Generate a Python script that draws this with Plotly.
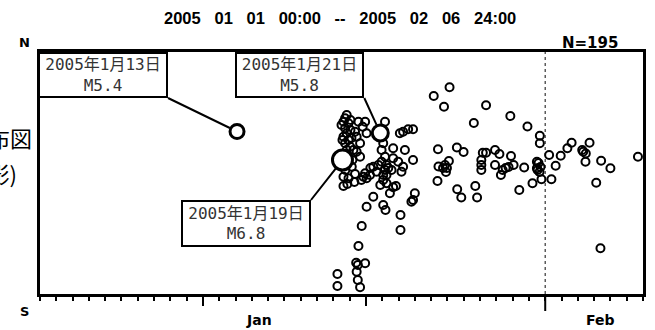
import plotly.graph_objects as go
import pandas as pd

# ---------------- data ----------------
period_start = "2005-01-01 00:00"
period_end = "2005-02-07 00:00"          # = 2005 02 06 24:00
event_count = 195

# elapsed days since period start, and N-S position (km north of southern edge)
elapsed_days = [
    25.13, 24.16, 24.79, 27.37, 26.62, 28.86, 29.91, 24.42, 25.58, 25.99,
    24.45, 24.85, 24.97, 24.91, 25.09, 24.73, 24.39, 25.60, 25.85, 26.71,
    26.82, 27.17, 27.08, 27.08, 27.08, 27.37, 27.92, 28.19, 27.92, 28.90,
    29.06, 28.39, 28.57, 28.75, 28.28, 29.71, 29.41, 30.22, 30.49, 30.49,
    30.67, 30.67, 31.24, 31.95, 32.36, 32.62, 31.64, 30.59, 30.71, 30.53,
    30.65, 30.77, 31.38, 33.33, 33.49, 33.27, 33.72, 33.47, 34.43, 35.00,
    34.13, 36.69, 34.39,
    18.82, 18.72, 18.62, 18.93, 18.72, 18.82, 18.62, 18.93, 18.72, 19.03,
    18.82, 18.62, 18.93, 18.62, 19.33, 19.13, 19.54, 19.95, 19.80, 19.33,
    20.04, 19.43, 19.64, 19.43, 19.64, 21.17, 21.06, 20.96, 21.17, 20.96,
    21.26, 21.17, 21.26, 21.06, 21.26, 20.76, 20.45, 19.95, 19.84, 20.04,
    20.25, 20.65, 21.67, 22.39, 22.08, 22.28, 22.59, 22.89, 21.67, 21.98,
    22.28, 22.18, 22.89, 21.57, 21.67, 21.84, 21.47, 23.00, 22.89, 20.45,
    20.04, 21.06, 21.20, 22.12, 22.79, 22.12, 19.74, 19.54, 19.40, 19.50,
    19.95, 18.25, 18.25, 19.43, 19.50, 19.64, 18.50, 19.05, 18.56, 19.11,
    18.86, 19.17, 18.74, 19.23, 19.05, 21.06, 21.37, 20.88, 20.27, 19.72,
    19.29, 18.86,
]
ns_km = [
    206.7, 198.0, 187.3, 188.7, 171.0, 178.0, 167.5, 144.7, 146.5, 142.0,
    127.5, 129.0, 126.0, 122.0, 133.0, 126.0, 113.0, 104.7, 96.5, 108.0,
    96.5, 141.3, 134.0, 129.0, 124.0, 141.3, 144.0, 140.0, 129.0, 138.0,
    129.0, 124.0, 126.0, 127.0, 119.0, 126.5, 104.0, 110.7, 132.3, 125.7,
    158.3, 150.7, 139.0, 138.3, 145.7, 151.3, 128.3, 131.0, 127.0, 124.0,
    122.0, 114.7, 114.7, 142.3, 140.5, 144.0, 151.3, 132.3, 133.3, 125.7,
    111.3, 137.3, 45.7,
    179.0, 175.7, 172.3, 170.7, 165.7, 160.7, 157.3, 154.0, 150.7, 147.3,
    144.0, 117.3, 115.7, 108.0, 120.0, 127.3, 172.3, 172.3, 167.3, 162.3,
    160.7, 157.3, 150.7, 142.3, 137.3, 172.3, 150.7, 144.0, 137.3, 132.3,
    129.0, 124.0, 119.0, 114.0, 110.7, 129.0, 127.3, 120.7, 117.3, 115.7,
    119.0, 122.3, 145.7, 144.0, 160.7, 162.3, 164.7, 164.7, 135.7, 132.3,
    127.3, 122.3, 134.0, 124.0, 106.7, 108.0, 100.7, 100.7, 94.0, 97.3,
    87.3, 89.0, 84.0, 79.0, 92.3, 64.0, 68.0, 48.0, 31.3, 29.0,
    30.7, 20.0, 8.0, 22.3, 14.0, 6.7, 169.0, 164.0, 154.0, 156.0,
    139.0, 134.0, 124.0, 144.0, 174.0, 119.0, 126.0, 109.0, 126.0, 114.0,
    112.0, 110.0,
]

# notable events
large_days = [12.09, 18.56, 20.88]
large_ns = [162.5, 134.0, 161.0]
large_mag = [5.4, 6.8, 5.8]
large_date_labels = ["2005年1月13日", "2005年1月19日", "2005年1月21日"]

major_tick_dates = ["2005-01-11", "2005-01-21"]
month_boundary = "2005-02-01"
month_labels = ["Jan", "Feb"]
month_label_dates = ["2005-01-14 10:00", "2005-02-04 10:00"]

title_text = "2005   01   01   00:00   --   2005   02   06   24:00"
side_title = ["時空間分布図", "(南北投影)"]

# ---------------- figure ----------------
t0 = pd.Timestamp(period_start)


def to_time(d):
    return t0 + pd.to_timedelta(d, unit="D")


fig = go.Figure()
fig.add_trace(go.Scatter(
    x=[to_time(d) for d in elapsed_days], y=ns_km, mode="markers",
    marker=dict(symbol="circle-open", size=8, color="#000000", line=dict(width=2), opacity=1),
    hoverinfo="skip"))

size_for_mag = {5.4: 14, 5.8: 16, 6.8: 20}
large_x = [to_time(d) for d in large_days]
large_sizes = [size_for_mag[m] for m in large_mag]
# white disc underneath, then a heavy black ring
fig.add_trace(go.Scatter(
    x=large_x, y=large_ns, mode="markers",
    marker=dict(symbol="circle", size=large_sizes, color="#ffffff", opacity=1,
                line=dict(width=0)),
    hoverinfo="skip"))
fig.add_trace(go.Scatter(
    x=large_x, y=large_ns, mode="markers",
    marker=dict(symbol="circle-open", size=large_sizes, color="#000000", opacity=1,
                line=dict(width=3)),
    hoverinfo="skip"))

W, H = 655, 330
L, R, T, B = 40, 9, 52, 36
pw, ph = W - L - R, H - T - B


def px_x(p):  # paper coordinate from pixel x
    return (p - L) / pw


def px_y(p):  # paper coordinate from pixel y
    return (H - B - p) / ph


annotations = []
box_font = dict(family="DejaVu Sans Mono, Noto Sans CJK JP", size=16, color="#333")
# callout placement: (ax, ay, xanchor, yanchor, width, height, standoff)
callout_style = {
    5.4: (-69, -33.5, "right", "bottom", 126, 42, 8),
    5.8: (-16, -35, "right", "bottom", 125, 42, 9),
    6.8: (-31.5, 40, "right", "top", 126, 43, 11),
}
for d, ns, m, lab in zip(large_days, large_ns, large_mag, large_date_labels):
    ax, ay, xa, ya, w, h, so = callout_style[m]
    annotations.append(dict(
        x=to_time(d), y=ns, xref="x", yref="y", text=f"{lab}<br>M{m}",
        showarrow=True, arrowhead=0, arrowwidth=2, arrowcolor="black",
        ax=ax, ay=ay, xanchor=xa, yanchor=ya, standoff=so,
        width=w, height=h, bordercolor="black", borderwidth=2, borderpad=0,
        bgcolor="white", font=box_font, align="center", valign="middle"))

bold = dict(family="DejaVu Sans, sans-serif", color="black")
annotations += [
    dict(x=px_x(341), y=px_y(18), xref="paper", yref="paper", text=f"<b>{title_text}</b>",
         showarrow=False, xanchor="center", yanchor="middle",
         font=dict(family="Liberation Sans, Arial, sans-serif", size=16.5, color="black")),
    dict(x=px_x(623), y=px_y(43), xref="paper", yref="paper", text=f"<b>N={event_count}</b>",
         showarrow=False, xanchor="right", yanchor="middle", font=dict(size=15, **bold)),
    dict(x=px_x(24), y=px_y(42.5), xref="paper", yref="paper", text="<b>N</b>",
         showarrow=False, xanchor="center", yanchor="middle", font=dict(size=13, **bold)),
    dict(x=px_x(24), y=px_y(311), xref="paper", yref="paper", text="<b>S</b>",
         showarrow=False, xanchor="center", yanchor="middle", font=dict(size=13, **bold)),
    dict(x=px_x(34), y=px_y(137), xref="paper", yref="paper", text=side_title[0],
         showarrow=False, xanchor="right", yanchor="middle",
         font=dict(family="Noto Sans CJK JP", size=22, color="black")),
    dict(x=px_x(19), y=px_y(173), xref="paper", yref="paper", text=side_title[1],
         showarrow=False, xanchor="right", yanchor="middle",
         font=dict(family="Noto Sans CJK JP", size=22, color="black")),
]
for lab, dt in zip(month_labels, month_label_dates):
    annotations.append(dict(
        x=dt, y=px_y(320), xref="x", yref="paper", text=f"<b>{lab}</b>",
        showarrow=False, xanchor="center", yanchor="middle", font=dict(size=14, **bold)))

shapes = [
    dict(type="line", xref="x", yref="paper", x0=month_boundary, x1=month_boundary,
         y0=0, y1=1, layer="below", line=dict(color="#444", width=1.3, dash="dot")),
    dict(type="line", xref="x", yref="paper", x0=month_boundary, x1=month_boundary,
         y0=0, y1=-17 / ph, line=dict(color="black", width=2)),
]

fig.update_layout(
    width=W, height=H, margin=dict(l=L, r=R, t=T, b=B),
    paper_bgcolor="white", plot_bgcolor="white", showlegend=False,
    annotations=annotations, shapes=shapes,
    xaxis=dict(type="date", range=[period_start, period_end], showgrid=False, zeroline=False,
               showline=True, linecolor="black", linewidth=3, mirror=True,
               tickmode="array", tickvals=major_tick_dates, ticks="outside",
               ticklen=9, tickwidth=2, tickcolor="black", showticklabels=False,
               minor=dict(dtick=86400000, tick0=period_start, ticks="outside",
                          ticklen=4, tickwidth=1.5, tickcolor="black", showgrid=False)),
    yaxis=dict(range=[0, ph], showgrid=False, zeroline=False, showline=True,
               linecolor="black", linewidth=3, mirror=True, ticks="",
               showticklabels=False),
)

fig.write_html("out.html", config={"displayModeBar": False},
               post_script="document.body.style.margin='0';document.body.style.overflow='hidden';")
